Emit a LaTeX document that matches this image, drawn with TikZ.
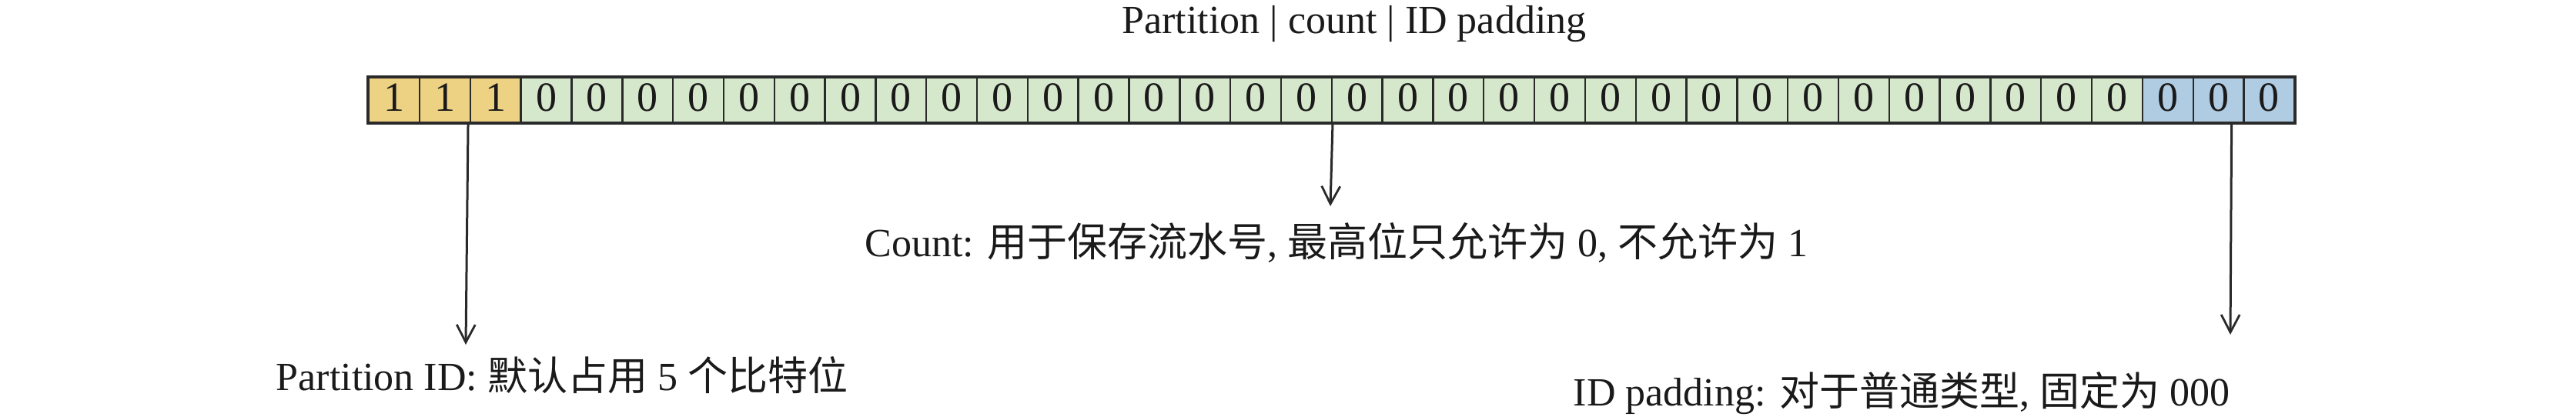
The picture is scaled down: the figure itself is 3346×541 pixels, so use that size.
\documentclass[tikz,border=0pt]{standalone}
\usepackage{fontspec}
\setmainfont{Liberation Serif}
\newfontfamily\cjk{Noto Sans CJK SC}
\newcommand\zh[1]{{\cjk #1}}
\usetikzlibrary{arrows.meta,calc}
\definecolor{cyel}{HTML}{EDD283}
\definecolor{cgrn}{HTML}{D6E8CC}
\definecolor{cblu}{HTML}{B0CCE2}
\definecolor{cedge}{HTML}{2A2A2A}
\definecolor{ctxt}{HTML}{1A1A1A}
\begin{document}
\begin{tikzpicture}[x=0.5pt,y=-0.5pt,
  cell/.style={draw=cedge, line width=1.2pt, minimum width=32.91pt, minimum height=29pt,
    inner sep=0pt, anchor=north west, font=\fontsize{27pt}{30pt}\selectfont, text=ctxt, text depth=4pt},
  lbl/.style={font=\fontsize{26pt}{30pt}\selectfont, text=ctxt, inner sep=0pt, anchor=base},
  arr/.style={draw=cedge, line width=1.5pt, -{Straight Barb[length=11.5pt,width=12pt,line width=1.4pt]}}]
\useasboundingbox (0,0) rectangle (3346,541);
% cells
\foreach \i in {1,...,38}{
  \pgfmathsetmacro{\xx}{478+(\i-1)*65.82}
  \ifnum\i<4
    \node[cell, fill=cyel] (c\i) at (\xx,100) {1};
  \else\ifnum\i<36
    \node[cell, fill=cgrn] (c\i) at (\xx,100) {0};
  \else
    \node[cell, fill=cblu] (c\i) at (\xx,100) {0};
  \fi\fi
}
\draw[cedge, line width=1.6pt] (c1.north west) rectangle (c38.south east);
% labels
\node[lbl] (title) at (1759,43) {Partition | count | ID padding};
\node[lbl] (cnt) at (1736,333) {Count: \zh{用于保存流水号}, \zh{最高位只允许为} 0, \zh{不允许为} 1};
\node[lbl] (part) at (730,507) {Partition ID: \zh{默认占用} 5 \zh{个比特位}};
\node[lbl] (pad) at (2470,527) {ID padding: \zh{对于普通类型}, \zh{固定为} 000};
% arrow ends
\coordinate (pe) at (605,448);
\coordinate (ce) at (1728,268);
\coordinate (de) at (2897,435);
\draw[arr] ([xshift=-2pt]c2.south east) -- (pe);
\draw[arr] (c19.south east) -- (ce);
\draw[arr] ([xshift=8.5pt]c37.south) -- (de);
\end{tikzpicture}
\end{document}
